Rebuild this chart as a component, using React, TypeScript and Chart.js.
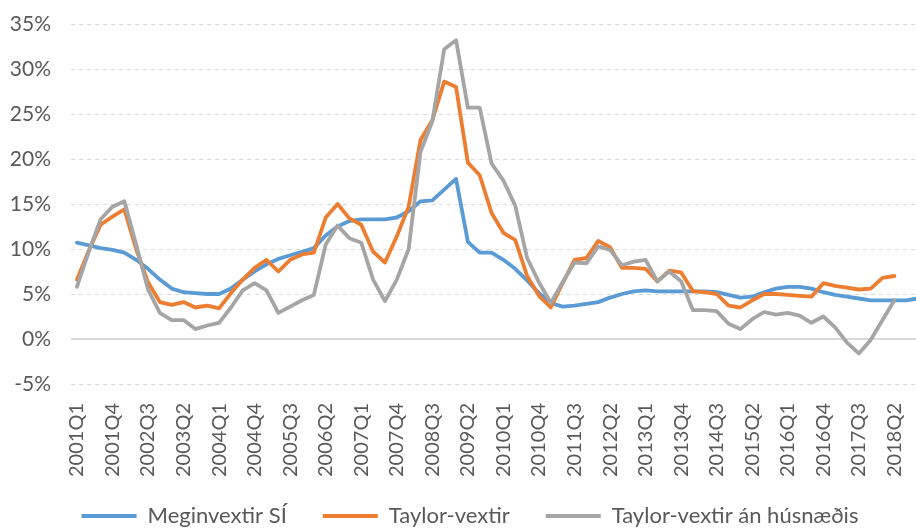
import React, { useEffect, useRef } from "react";
import { Chart, registerables } from "chart.js";

Chart.register(...registerables);

const quarters: string[] = [
  "2001Q1", "2001Q2", "2001Q3", "2001Q4", "2002Q1", "2002Q2", "2002Q3", "2002Q4",
  "2003Q1", "2003Q2", "2003Q3", "2003Q4", "2004Q1", "2004Q2", "2004Q3", "2004Q4",
  "2005Q1", "2005Q2", "2005Q3", "2005Q4", "2006Q1", "2006Q2", "2006Q3", "2006Q4",
  "2007Q1", "2007Q2", "2007Q3", "2007Q4", "2008Q1", "2008Q2", "2008Q3", "2008Q4",
  "2009Q1", "2009Q2", "2009Q3", "2009Q4", "2010Q1", "2010Q2", "2010Q3", "2010Q4",
  "2011Q1", "2011Q2", "2011Q3", "2011Q4", "2012Q1", "2012Q2", "2012Q3", "2012Q4",
  "2013Q1", "2013Q2", "2013Q3", "2013Q4", "2014Q1", "2014Q2", "2014Q3", "2014Q4",
  "2015Q1", "2015Q2", "2015Q3", "2015Q4", "2016Q1", "2016Q2", "2016Q3", "2016Q4",
  "2017Q1", "2017Q2", "2017Q3", "2017Q4", "2018Q1", "2018Q2", "2018Q3", "2018Q4",
];

// Meginvextir SÍ (%)
const meginvextir: number[] = [
  10.7, 10.4, 10.1, 9.9, 9.6, 8.8, 7.8, 6.6, 5.6, 5.2, 5.1, 5.0,
  5.0, 5.6, 6.6, 7.5, 8.3, 8.9, 9.3, 9.7, 10.1, 11.5, 12.5, 13.1,
  13.3, 13.3, 13.3, 13.5, 14.2, 15.3, 15.4, 16.6, 17.8, 10.8, 9.6, 9.6,
  8.8, 7.8, 6.5, 5.1, 4.0, 3.6, 3.7, 3.9, 4.1, 4.6, 5.0, 5.3,
  5.4, 5.3, 5.3, 5.3, 5.3, 5.3, 5.2, 4.9, 4.6, 4.7, 5.2, 5.6,
  5.8, 5.8, 5.6, 5.2, 4.9, 4.7, 4.5, 4.3, 4.3, 4.3, 4.3, 4.5,
];

// Taylor-vextir (%)
const taylorVextir: number[] = [
  6.6, 9.8, 12.7, 13.6, 14.4, 10.0, 6.3, 4.1, 3.8, 4.1, 3.5, 3.7,
  3.4, 5.1, 6.6, 7.9, 8.8, 7.5, 8.8, 9.4, 9.6, 13.5, 15.0, 13.4,
  12.7, 9.7, 8.5, 11.4, 14.7, 22.1, 24.3, 28.6, 28.0, 19.6, 18.2, 14.0,
  11.8, 11.0, 7.0, 4.8, 3.5, 6.2, 8.8, 9.0, 10.9, 10.2, 7.9, 7.9,
  7.8, 6.4, 7.6, 7.4, 5.3, 5.2, 5.0, 3.7, 3.5, 4.3, 5.0, 5.0,
  4.9, 4.8, 4.7, 6.2, 5.9, 5.7, 5.5, 5.6, 6.8, 7.0,
];

// Taylor-vextir án húsnæðis (%)
const taylorAnHusnaedis: number[] = [
  5.8, 9.7, 13.3, 14.7, 15.3, 10.5, 5.5, 2.9, 2.1, 2.1, 1.1, 1.5,
  1.8, 3.5, 5.4, 6.2, 5.4, 2.9, 3.6, 4.3, 4.9, 10.5, 12.6, 11.2,
  10.7, 6.6, 4.2, 6.6, 10.0, 20.8, 24.2, 32.2, 33.2, 25.7, 25.7, 19.5,
  17.6, 14.8, 9.0, 6.3, 4.0, 6.3, 8.5, 8.4, 10.3, 9.9, 8.2, 8.6,
  8.8, 6.4, 7.5, 6.4, 3.2, 3.2, 3.1, 1.7, 1.1, 2.2, 3.0, 2.7,
  2.9, 2.6, 1.8, 2.5, 1.3, -0.4, -1.6, -0.1, 2.1, 4.3,
];

const seriesNames: string[] = ["Meginvextir SÍ", "Taylor-vextir", "Taylor-vextir án húsnæðis"];
const seriesColors: string[] = ["#5B9BD5", "#ED7D31", "#A5A5A5"];
const yMin = -5;
const yMax = 35;
const yStep = 5;
const labelEvery = 3;

const FONT = "Lato, 'Open Sans', sans-serif";
const TEXT = "#595959";
const LEGEND_FONT = 22;
const LEGEND_PAD = 36;
const LEGEND_CENTER_Y = 516;
const LEGEND_SHIFT_X = 8;

const zeroLine = {
  id: "zeroLine",
  beforeDatasetsDraw(chart: any) {
    const { ctx, chartArea, scales } = chart;
    const y = scales.y.getPixelForValue(0);
    ctx.save();
    ctx.strokeStyle = "#d0d0d0";
    ctx.lineWidth = 1.5;
    ctx.beginPath();
    ctx.moveTo(chartArea.left, y);
    ctx.lineTo(chartArea.right, y);
    ctx.stroke();
    ctx.restore();
  },
};

// moves the legend row up so that it sits just below the rotated tick labels
const legendPlace = {
  id: "legendPlace",
  afterLayout(chart: any) {
    const lg = chart.legend;
    if (!lg) return;
    const desiredTop = LEGEND_CENTER_Y - LEGEND_PAD - LEGEND_FONT / 2;
    const dy = desiredTop - lg.top;
    lg.top += dy;
    lg.bottom += dy;
    lg.left += LEGEND_SHIFT_X;
    lg.right += LEGEND_SHIFT_X;
  },
};

export default function App() {
  const ref = useRef<HTMLCanvasElement>(null);

  useEffect(() => {
    const data = [meginvextir, taylorVextir, taylorAnHusnaedis];
    const chart = new Chart(ref.current as HTMLCanvasElement, {
      type: "line",
      data: {
        labels: quarters,
        datasets: data.map((d, i) => ({
          label: seriesNames[i],
          data: d,
          borderColor: seriesColors[i],
          backgroundColor: seriesColors[i],
          borderWidth: 3.8,
          pointRadius: 0,
          tension: 0,
          borderJoinStyle: "round" as const,
          borderCapStyle: "round" as const,
          order: 2 - i,
        })),
      },
      options: {
        animation: false,
        responsive: true,
        maintainAspectRatio: false,
        layout: { padding: { top: 24, bottom: 0, left: 0, right: 0 } },
        scales: {
          x: {
            offset: true,
            grid: { display: false, drawTicks: false },
            border: { display: false },
            afterFit: (s: any) => {
              s.height = 100;
              s.paddingLeft = 0;
              s.paddingRight = 0;
            },
            ticks: {
              autoSkip: false,
              maxRotation: 90,
              minRotation: 90,
              padding: 19,
              color: TEXT,
              font: { family: FONT, size: 20 },
              callback: (_v: any, idx: number) => (idx % labelEvery === 0 ? quarters[idx] : null),
            },
          },
          y: {
            min: yMin,
            max: yMax,
            grid: { color: "#d9d9d9", lineWidth: 1, drawTicks: false },
            border: { display: false, dash: [4, 4] },
            afterFit: (s: any) => {
              s.width = 71;
              s.paddingTop = 0;
              s.paddingBottom = 0;
            },
            ticks: {
              stepSize: yStep,
              padding: 20,
              color: TEXT,
              font: { family: FONT, size: 21 },
              callback: (v: any) => `${v}%`,
            },
          },
        },
        plugins: {
          tooltip: { enabled: false },
          legend: {
            position: "bottom",
            labels: {
              boxWidth: 55,
              boxHeight: 4,
              padding: LEGEND_PAD,
              color: TEXT,
              font: { family: FONT, size: LEGEND_FONT },
              sort: (a: any, b: any) => a.datasetIndex - b.datasetIndex,
              generateLabels: (c: any) =>
                Chart.defaults.plugins.legend.labels
                  .generateLabels(c)
                  .map((it: any) => ({ ...it, lineWidth: 0 })),
            },
          },
        },
      },
      plugins: [zeroLine, legendPlace],
    });
    return () => chart.destroy();
  }, []);

  return (
    <div
      style={{
        position: "fixed",
        left: 0,
        top: 0,
        width: 916,
        height: 528,
        overflow: "hidden",
        background: "#fff",
      }}
    >
      <div style={{ position: "absolute", left: 0, top: 0, width: 924, height: 552 }}>
        <canvas ref={ref} />
      </div>
    </div>
  );
}
